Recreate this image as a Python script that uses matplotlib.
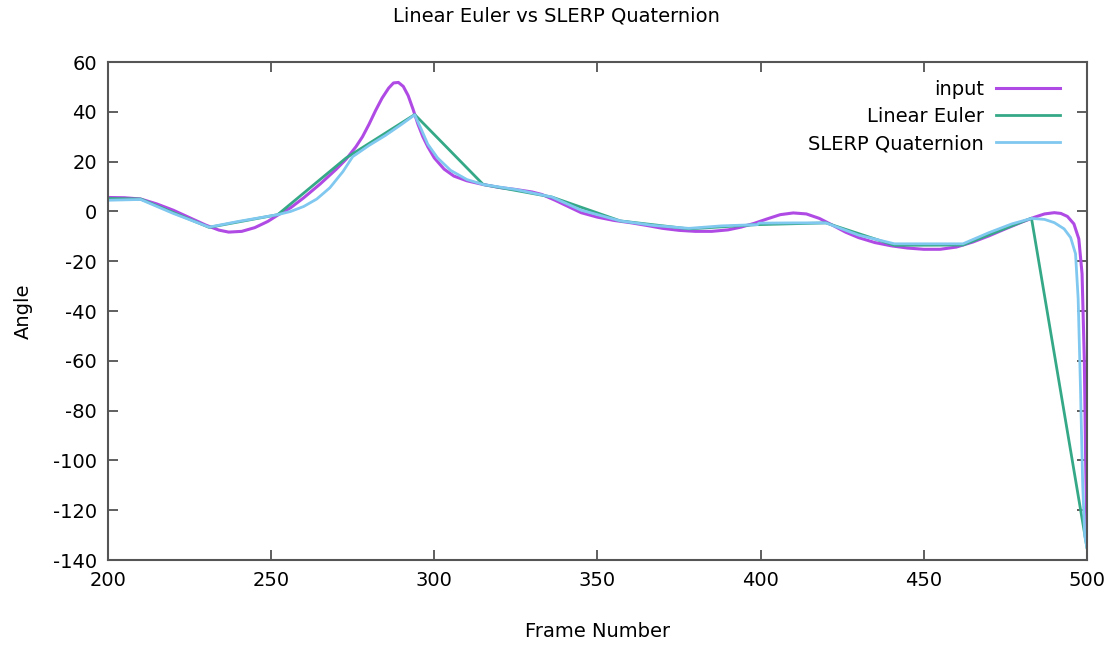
import numpy as np
import matplotlib.pyplot as plt

plt.rcParams['axes.unicode_minus'] = False

# input curve
in_x = [200, 205, 210, 215, 220, 225, 230, 234, 237, 241, 245, 249, 252, 256, 260, 265,
        270, 273, 276, 278, 280, 282, 284, 286, 287.5, 289, 290.5, 292, 293.5, 295, 296.5, 298,
        300, 303, 306, 310,
        315, 320, 325, 330, 333, 337, 341, 345, 350, 355, 360, 365, 370, 375, 380, 385,
        390, 394, 398, 402, 406, 410, 414, 418, 422, 426, 430, 435, 440, 445, 450, 455,
        460, 465, 470, 475, 480, 484, 487, 490, 492, 494, 496, 497.5, 498.5, 499.2, 499.6, 500]
in_y = [5.6, 5.5, 5.0, 3.0, 0.5, -2.5, -5.5, -7.5, -8.3, -8.0, -6.5, -4.0, -1.5, 1.5, 5.5, 11,
        17, 21, 26, 30, 35, 40.5, 45.5, 49.5, 51.6, 51.8, 50.2, 46.5, 41, 35, 30, 26,
        21.5, 17, 14.2, 12.3,
        10.8, 9.6, 8.8, 7.8, 6.8, 4.5, 2.0, -0.5, -2.3, -3.6, -4.5, -5.6, -6.8, -7.6, -8.0, -8.0,
        -7.4, -6.3, -4.8, -3.0, -1.3, -0.6, -1.0, -2.8, -5.5, -8.3, -10.5, -12.5, -13.8, -14.7, -15.2, -15.2,
        -14.3, -12.3, -9.8, -7.0, -4.3, -2.3, -1.0, -0.5, -0.8, -2.0, -5.0, -11, -25, -60, -100, -130]

# linear euler keyframes
lin_x = [200, 210, 231, 252, 273, 294, 315, 336, 357, 378, 399, 420, 441, 462, 483, 500]
lin_y = [5.2, 5.0, -6.4, -1.3, 21.5, 38.9, 10.8, 5.8, -3.8, -7.0, -5.3, -4.6, -13.6, -13.5, -2.7, -135]

# slerp quaternion
sl_x = [200, 210, 220, 231, 240, 252, 256, 260, 264, 268, 272, 275, 280, 285, 290, 294,
        296, 298, 301, 305, 310, 315, 325, 336, 345, 357, 367, 378, 388, 399, 399.5, 410,
        420, 430, 441, 450, 462, 470, 477, 483, 487, 490, 493, 495, 496.5, 497.3, 498, 498.7,
        499.3, 500]
sl_y = [4.5, 4.8, -0.8, -6.3, -4.0, -1.3, 0.0, 2.0, 5.0, 9.5, 16.0, 22.0, 26.5, 30.5, 35.0, 38.8,
        33, 27, 21.5, 16.5, 12.8, 10.8, 8.8, 5.8, 0.5, -3.8, -5.6, -6.8, -5.8, -5.3, -4.7, -4.6,
        -4.6, -9.5, -13.0, -13.0, -13.0, -8.5, -5.0, -2.8, -3.2, -4.5, -7.0, -10.5, -17, -35, -70, -110,
        -130, -135]

fig = plt.figure(figsize=(11.13, 6.46), dpi=100)
ax = fig.add_axes([0.097, 0.133, 0.8796, 0.771])

ax.plot(in_x, in_y, color='#b04ae4', lw=2.2, label='input')
ax.plot(lin_x, lin_y, color='#35a987', lw=2.0, label='Linear Euler')
ax.plot(sl_x, sl_y, color='#80c8ef', lw=2.0, label='SLERP Quaternion')

ax.set_xlim(200, 500)
ax.set_ylim(-140, 60)
ax.set_xticks(np.arange(200, 501, 50))
ax.set_yticks(np.arange(-140, 61, 20))
ax.tick_params(direction='in', length=7, width=1.2, color='#444444',
               top=True, right=True, labelsize=14, pad=8)
for s in ax.spines.values():
    s.set_color('#555555')
    s.set_linewidth(1.5)

ax.set_xlabel('Frame Number', fontsize=14, labelpad=23)
ax.set_ylabel('Angle', fontsize=14, labelpad=14)
fig.suptitle('Linear Euler vs SLERP Quaternion', fontsize=14, y=0.99)

ax.legend(loc='upper right', bbox_to_anchor=(0.98, 0.98), borderaxespad=0,
          frameon=False, markerfirst=False, fontsize=14,
          handlelength=3.25, handletextpad=0.65, labelspacing=0.42)

fig.savefig('out.png', dpi=100)
